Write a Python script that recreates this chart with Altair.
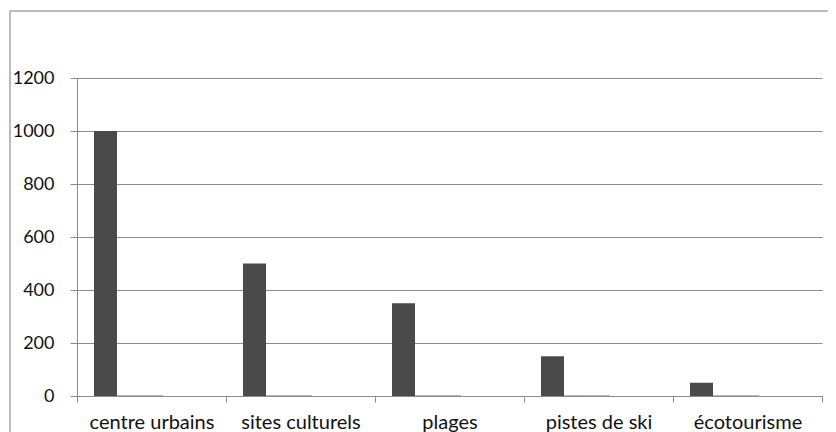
import altair as alt
import pandas as pd

categories = ["centre urbains", "sites culturels", "plages", "pistes de ski", "écotourisme"]
series_names = ["Série 1", "Série 2", "Série 3", "Série 4", "Série 5"]
serie1 = [1000, 500, 350, 150, 50]
serie2 = [2, 2, 2, 2, 2]
serie3 = [2, 2, 2, 2, 2]
serie4 = [0, 0, 0, 0, 0]
serie5 = [0, 0, 0, 0, 0]
y_ticks = [0, 200, 400, 600, 800, 1000, 1200]

all_series = [serie1, serie2, serie3, serie4, serie5]
rows = []
for name, vals in zip(series_names, all_series):
    for c, v in zip(categories, vals):
        rows.append({"categorie": c, "serie": name, "valeur": v})
df = pd.DataFrame(rows)

GRID = "#8c8c8c"
FONT = "Lato"

bars = alt.Chart(df).mark_bar().encode(
    x=alt.X("categorie:N", sort=categories,
            scale=alt.Scale(paddingInner=0, paddingOuter=0),
            axis=alt.Axis(title=None, labelAngle=0, tickBand="extent", grid=False,
                          domainColor=GRID, tickColor=GRID, tickSize=6,
                          labelFont=FONT, labelFontSize=20, labelColor="#111111",
                          labelPadding=10)),
    xOffset=alt.XOffset("serie:N", sort=series_names,
                        scale=alt.Scale(paddingOuter=0.739, paddingInner=0)),
    y=alt.Y("valeur:Q", scale=alt.Scale(domain=[0, 1200], nice=False),
            axis=alt.Axis(title=None, values=y_ticks, format="d", grid=True, gridColor=GRID,
                          gridOpacity=1, domainColor=GRID, tickColor=GRID, tickSize=7,
                          labelFont=FONT, labelFontSize=18, labelColor="#111111",
                          labelPadding=16)),
    color=alt.Color("serie:N", sort=series_names, legend=None,
                    scale=alt.Scale(domain=series_names,
                                    range=["#4a4a4a", "#7a7a7a", "#7a7a7a", "#7a7a7a", "#7a7a7a"])),
)

frame = alt.Chart(pd.DataFrame({"k": [0]})).mark_rect(
    fill="transparent", stroke="#a6a6a6", strokeWidth=1.5
).encode(x=alt.value(-67), x2=alt.value(780), y=alt.value(-67), y2=alt.value(420))

chart = alt.layer(frame, bars).properties(
    width=745, height=318,
    autosize=alt.AutoSizeParams(type="none"),
    padding={"left": 69, "top": 70, "right": 6, "bottom": 36},
).configure_view(stroke=None)

chart.save("out.html", embed_options={"renderer": "svg", "actions": False})
